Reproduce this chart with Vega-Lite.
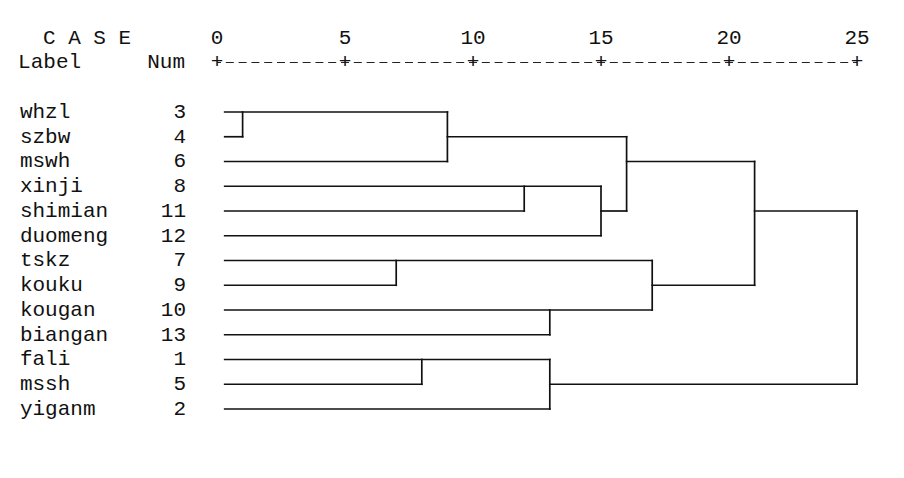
{
  "$schema": "https://vega.github.io/schema/vega-lite/v6.json",
  "width": 904,
  "height": 478,
  "autosize": {"type": "none"},
  "padding": 0,
  "background": "white",
  "config": {"view": {"stroke": null}},
  "datasets": {
    "segments": [
      {"x": 0.3, "x2": 9, "y": 0, "y2": 0},
      {"x": 0.3, "x2": 1, "y": 1, "y2": 1},
      {"x": 1, "x2": 1, "y": 0, "y2": 1},
      {"x": 0.3, "x2": 9, "y": 2, "y2": 2},
      {"x": 9, "x2": 9, "y": 0, "y2": 2},
      {"x": 9, "x2": 16, "y": 1, "y2": 1},
      {"x": 0.3, "x2": 15, "y": 3, "y2": 3},
      {"x": 0.3, "x2": 12, "y": 4, "y2": 4},
      {"x": 12, "x2": 12, "y": 3, "y2": 4},
      {"x": 0.3, "x2": 15, "y": 5, "y2": 5},
      {"x": 15, "x2": 15, "y": 3, "y2": 5},
      {"x": 15, "x2": 16, "y": 4, "y2": 4},
      {"x": 16, "x2": 16, "y": 1, "y2": 4},
      {"x": 16, "x2": 21, "y": 2, "y2": 2},
      {"x": 0.3, "x2": 17, "y": 6, "y2": 6},
      {"x": 0.3, "x2": 7, "y": 7, "y2": 7},
      {"x": 7, "x2": 7, "y": 6, "y2": 7},
      {"x": 0.3, "x2": 17, "y": 8, "y2": 8},
      {"x": 0.3, "x2": 13, "y": 9, "y2": 9},
      {"x": 13, "x2": 13, "y": 8, "y2": 9},
      {"x": 17, "x2": 17, "y": 6, "y2": 8},
      {"x": 17, "x2": 21, "y": 7, "y2": 7},
      {"x": 21, "x2": 21, "y": 2, "y2": 7},
      {"x": 21, "x2": 25, "y": 4, "y2": 4},
      {"x": 0.3, "x2": 13, "y": 10, "y2": 10},
      {"x": 0.3, "x2": 8, "y": 11, "y2": 11},
      {"x": 8, "x2": 8, "y": 10, "y2": 11},
      {"x": 0.3, "x2": 13, "y": 12, "y2": 12},
      {"x": 13, "x2": 13, "y": 10, "y2": 12},
      {"x": 13, "x2": 25, "y": 11, "y2": 11},
      {"x": 25, "x2": 25, "y": 4, "y2": 11}
    ],
    "cases": [
      {"row": 0, "label": "whzl", "num": "3"},
      {"row": 1, "label": "szbw", "num": "4"},
      {"row": 2, "label": "mswh", "num": "6"},
      {"row": 3, "label": "xinji", "num": "8"},
      {"row": 4, "label": "shimian", "num": "11"},
      {"row": 5, "label": "duomeng", "num": "12"},
      {"row": 6, "label": "tskz", "num": "7"},
      {"row": 7, "label": "kouku", "num": "9"},
      {"row": 8, "label": "kougan", "num": "10"},
      {"row": 9, "label": "biangan", "num": "13"},
      {"row": 10, "label": "fali", "num": "1"},
      {"row": 11, "label": "mssh", "num": "5"},
      {"row": 12, "label": "yiganm", "num": "2"}
    ],
    "ticks": [
      {"value": 0}, {"value": 5}, {"value": 10}, {"value": 15}, {"value": 20}, {"value": 25}
    ],
    "headersLeft": [
      {"text": "C A S E", "row": -3, "pos": -6.8},
      {"text": "Label", "row": -2, "pos": -7.77}
    ],
    "headersRight": [
      {"text": "Num", "row": -2, "pos": -1.25}
    ]
  },
  "layer": [
    {
      "data": {"name": "segments"},
      "mark": {"type": "rule", "color": "#111", "strokeWidth": 1.7, "strokeCap": "square"},
      "encoding": {
        "x": {"field": "x", "type": "quantitative", "axis": null, "scale": {"domain": [-8.477, 26.836], "nice": false, "zero": false}},
        "x2": {"field": "x2"},
        "y": {"field": "y", "type": "quantitative", "axis": null, "scale": {"domain": [-4.525, 14.788], "reverse": true, "nice": false, "zero": false}},
        "y2": {"field": "y2"}
      }
    },
    {
      "data": {"name": "ticks"},
      "mark": {"type": "rule", "color": "#222", "strokeWidth": 1.2, "strokeDash": [8, 4.8], "strokeDashOffset": 4},
      "transform": [{"aggregate": [{"op": "min", "field": "value", "as": "lo"}, {"op": "max", "field": "value", "as": "hi"}]}],
      "encoding": {
        "x": {"field": "lo", "type": "quantitative", "axis": null, "scale": {"domain": [-8.477, 26.836], "nice": false, "zero": false}},
        "x2": {"field": "hi"},
        "y": {"datum": -2, "type": "quantitative", "axis": null, "scale": {"domain": [-4.525, 14.788], "reverse": true, "nice": false, "zero": false}}
      }
    },
    {
      "data": {"name": "ticks"},
      "mark": {"type": "text", "text": "+", "font": "Liberation Mono", "fontSize": 21, "color": "#111", "align": "center", "baseline": "middle"},
      "encoding": {
        "x": {"field": "value", "type": "quantitative", "axis": null, "scale": {"domain": [-8.477, 26.836], "nice": false, "zero": false}},
        "y": {"datum": -2, "type": "quantitative", "axis": null, "scale": {"domain": [-4.525, 14.788], "reverse": true, "nice": false, "zero": false}}
      }
    },
    {
      "data": {"name": "ticks"},
      "mark": {"type": "text", "font": "Liberation Mono", "fontSize": 21, "color": "#111", "align": "center", "baseline": "middle"},
      "encoding": {
        "text": {"field": "value", "type": "quantitative"},
        "x": {"field": "value", "type": "quantitative", "axis": null, "scale": {"domain": [-8.477, 26.836], "nice": false, "zero": false}},
        "y": {"datum": -3, "type": "quantitative", "axis": null, "scale": {"domain": [-4.525, 14.788], "reverse": true, "nice": false, "zero": false}}
      }
    },
    {
      "data": {"name": "headersLeft"},
      "mark": {"type": "text", "font": "Liberation Mono", "fontSize": 21, "color": "#111", "align": "left", "baseline": "middle"},
      "encoding": {
        "text": {"field": "text"},
        "x": {"field": "pos", "type": "quantitative", "axis": null, "scale": {"domain": [-8.477, 26.836], "nice": false, "zero": false}},
        "y": {"field": "row", "type": "quantitative", "axis": null, "scale": {"domain": [-4.525, 14.788], "reverse": true, "nice": false, "zero": false}}
      }
    },
    {
      "data": {"name": "headersRight"},
      "mark": {"type": "text", "font": "Liberation Mono", "fontSize": 21, "color": "#111", "align": "right", "baseline": "middle"},
      "encoding": {
        "text": {"field": "text"},
        "x": {"field": "pos", "type": "quantitative", "axis": null, "scale": {"domain": [-8.477, 26.836], "nice": false, "zero": false}},
        "y": {"field": "row", "type": "quantitative", "axis": null, "scale": {"domain": [-4.525, 14.788], "reverse": true, "nice": false, "zero": false}}
      }
    },
    {
      "data": {"name": "cases"},
      "mark": {"type": "text", "font": "Liberation Mono", "fontSize": 21, "color": "#111", "align": "left", "baseline": "middle"},
      "encoding": {
        "text": {"field": "label"},
        "x": {"datum": -7.7, "type": "quantitative", "axis": null, "scale": {"domain": [-8.477, 26.836], "nice": false, "zero": false}},
        "y": {"field": "row", "type": "quantitative", "axis": null, "scale": {"domain": [-4.525, 14.788], "reverse": true, "nice": false, "zero": false}}
      }
    },
    {
      "data": {"name": "cases"},
      "mark": {"type": "text", "font": "Liberation Mono", "fontSize": 21, "color": "#111", "align": "right", "baseline": "middle"},
      "encoding": {
        "text": {"field": "num"},
        "x": {"datum": -1.21, "type": "quantitative", "axis": null, "scale": {"domain": [-8.477, 26.836], "nice": false, "zero": false}},
        "y": {"field": "row", "type": "quantitative", "axis": null, "scale": {"domain": [-4.525, 14.788], "reverse": true, "nice": false, "zero": false}}
      }
    }
  ]
}
